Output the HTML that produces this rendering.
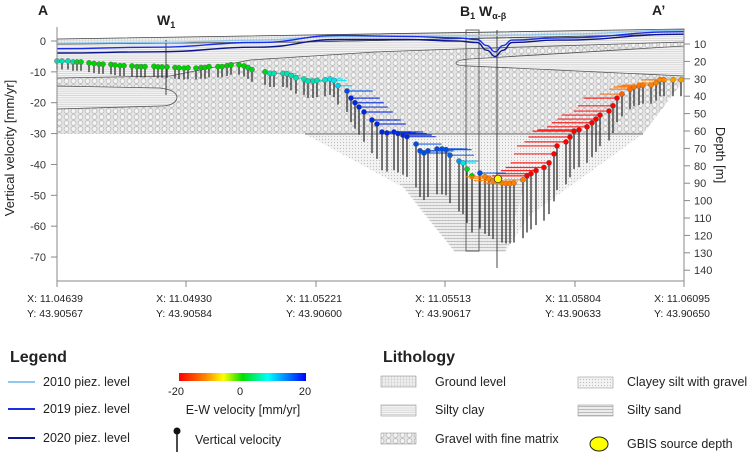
<!DOCTYPE html>
<html><head><meta charset="utf-8"><style>
body{margin:0;background:#fff}
svg{display:block;font-family:"Liberation Sans",sans-serif}
</style></head><body>
<svg id="chart" width="749" height="457" viewBox="0 0 749 457">
<defs>
<pattern id="pGravel" width="7" height="6" patternUnits="userSpaceOnUse"><rect width="7" height="6" fill="#e4e4e4"/><circle cx="3.5" cy="3" r="2.4" fill="#f4f4f4" stroke="#b4b4b4" stroke-width="0.7"/></pattern>
<pattern id="pClay" width="4" height="2.2" patternUnits="userSpaceOnUse"><rect width="4" height="2.2" fill="#f4f4f4"/><line x1="0" y1="1" x2="4" y2="1" stroke="#c8c8c8" stroke-width="0.6"/></pattern>
<pattern id="pSilt" width="3" height="3" patternUnits="userSpaceOnUse"><rect width="3" height="3" fill="#f3f3f3"/><circle cx="1.5" cy="1.5" r="0.6" fill="#bdbdbd"/></pattern>
<pattern id="pSand" width="2" height="3" patternUnits="userSpaceOnUse"><rect width="2" height="3" fill="#ececec"/><line x1="0" y1="1.5" x2="2" y2="1.5" stroke="#999" stroke-width="0.6"/></pattern>
<pattern id="pGround" width="3" height="3" patternUnits="userSpaceOnUse"><rect width="3" height="3" fill="#efefef"/><line x1="1.5" y1="0" x2="1.5" y2="3" stroke="#c8c8c8" stroke-width="0.5"/><line x1="0" y1="1.5" x2="3" y2="1.5" stroke="#d6d6d6" stroke-width="0.5"/></pattern>
<linearGradient id="cbar" x1="0" x2="1"><stop offset="0" stop-color="#ff0000"/><stop offset="0.2" stop-color="#ff8000"/><stop offset="0.35" stop-color="#ffff00"/><stop offset="0.5" stop-color="#00e000"/><stop offset="0.7" stop-color="#00ffff"/><stop offset="1" stop-color="#0000ff"/></linearGradient>
</defs>
<g id="geo">
<polygon fill="url(#pGravel)" points="57,78 170,76 200,70 250,60 375,52 458,49 684,42 684,80 643,134 57,134"/>
<polygon fill="url(#pSilt)" points="305,134 643,134 530,215 505,252 455,252 408,190"/>
<polygon fill="url(#pSand)" opacity="0.8" points="400,183 525,183 505,252 455,252 425,215"/>
<polygon fill="url(#pClay)" stroke="#555" stroke-width="0.8" points="57,44 300,42 684,34 684,42 458,49 375,52 250,60 200,70 170,76 57,78"/>
<polygon fill="url(#pGround)" stroke="#444" stroke-width="0.8" points="57,39 684,29 684,34 300,42 57,44"/>
<path fill="url(#pClay)" stroke="#555" stroke-width="0.8" d="M57,86 L160,88 Q177,90 177,98 Q175,106 160,106 L57,109 Z"/>
<path fill="url(#pClay)" stroke="#555" stroke-width="0.8" d="M684,46 L470,59 Q456,60 456,63 Q456,66 470,66 L684,76 Z"/>
<line x1="305" y1="134" x2="643" y2="134" stroke="#444" stroke-width="0.8"/>
<line x1="166" y1="40" x2="166" y2="95" stroke="#333" stroke-width="0.9"/>
<rect x="466" y="30" width="13" height="221" fill="none" stroke="#555" stroke-width="0.9"/>
<line x1="497" y1="30" x2="497" y2="268" stroke="#333" stroke-width="0.9"/>
</g>
<g id="piez"></g>
<g id="marks"></g>
<g id="axes"></g>
<g font-weight="bold" fill="#222">
<text x="38" y="15" font-size="14">A</text>
<text x="157" y="25" font-size="14">W<tspan font-size="9" dy="3">1</tspan></text>
<text x="460" y="16" font-size="14">B<tspan font-size="9" dy="3">1</tspan><tspan dy="-3"> W</tspan><tspan font-size="9" dy="3">α-β</tspan></text>
<text x="652" y="15" font-size="14">A’</text>
</g>
<g fill="#222">
<text x="10" y="362" font-size="16" font-weight="bold">Legend</text>
<line x1="8" y1="382" x2="35" y2="382" stroke="#8ec8f0" stroke-width="2"/>
<text x="43" y="386" font-size="12.5">2010 piez. level</text>
<line x1="8" y1="409" x2="35" y2="409" stroke="#1a2ee8" stroke-width="2"/>
<text x="43" y="413" font-size="12.5">2019 piez. level</text>
<line x1="8" y1="438" x2="35" y2="438" stroke="#0c168c" stroke-width="2"/>
<text x="43" y="442" font-size="12.5">2020 piez. level</text>
<rect x="179" y="373" width="127" height="8" fill="url(#cbar)"/>
<text x="176" y="395" font-size="11" text-anchor="middle">-20</text>
<text x="240" y="395" font-size="11" text-anchor="middle">0</text>
<text x="305" y="395" font-size="11" text-anchor="middle">20</text>
<text x="243" y="414" font-size="12.5" text-anchor="middle">E-W velocity [mm/yr]</text>
<line x1="177" y1="431" x2="177" y2="452" stroke="#111" stroke-width="1.5"/>
<circle cx="177" cy="431" r="3.5" fill="#111"/>
<text x="195" y="444" font-size="12.5">Vertical velocity</text>
</g>
<g fill="#222">
<text x="383" y="362" font-size="16" font-weight="bold">Lithology</text>
<rect x="381" y="376" width="35" height="11" fill="url(#pGround)" stroke="#999" stroke-width="0.6"/>
<text x="435" y="386" font-size="12.5">Ground level</text>
<rect x="381" y="405" width="35" height="11" fill="url(#pClay)" stroke="#999" stroke-width="0.6"/>
<text x="435" y="414" font-size="12.5">Silty clay</text>
<rect x="381" y="433" width="35" height="11" fill="url(#pGravel)" stroke="#999" stroke-width="0.6"/>
<text x="435" y="443" font-size="12.5">Gravel with fine matrix</text>
<rect x="578" y="377" width="35" height="11" fill="url(#pSilt)" stroke="#999" stroke-width="0.6"/>
<text x="627" y="386" font-size="12.5">Clayey silt with gravel</text>
<rect x="578" y="405" width="35" height="11" fill="url(#pSand)" stroke="#999" stroke-width="0.6"/>
<text x="627" y="414" font-size="12.5">Silty sand</text>
<ellipse cx="599" cy="444" rx="9" ry="7" fill="#ffff00" stroke="#222" stroke-width="1"/>
<text x="627" y="448" font-size="12.5">GBIS source depth</text>
</g>
</svg>
<script>
const dist=[0,10,22,32,40,48,64,74,84,92,108,116,126,134,150,160,168,176,194,202,210,220,236,244,254,262,278,288,296,304,322,330,340,348,364,374,382,390,416,426,434,452,460,468,478,494,502,512,520,536,546,554,562,580,588,596,604,614,630,640,650,660,674,682,692,700,718,726,734,742,760,770,778,786,804,812,820,830,846,856,864,872,890,898,906,914,932,940,948,958,974,984,994,1000,1018,1026,1034,1044,1060,1070,1078,1086,1104,1112,1120,1130,1146,1154,1164,1172,1188,1198,1206,1214,1232,1248];
const vertVel=[-6.5,-6.5,-6.5,-6.8,-6.8,-6.8,-7.1,-7.3,-7.5,-7.5,-7.6,-7.8,-8,-8,-8.1,-8.3,-8.3,-8.3,-8.2,-8.4,-8.4,-8.4,-8.6,-8.7,-8.8,-8.7,-8.8,-8.6,-8.6,-8.3,-8.3,-8.3,-8,-7.7,-7.7,-8.1,-8.6,-9.3,-10,-10.5,-10.5,-10.5,-10.6,-11.2,-12,-12.3,-13,-13,-12.8,-12.6,-12.3,-12.8,-14.5,-16.2,-18.5,-20,-21.4,-23,-25.6,-26.9,-29.5,-29.8,-29.5,-30,-30.5,-31,-33.4,-35.6,-36.3,-35.6,-35,-35,-35.2,-37,-38.9,-39.5,-41.5,-43.7,-42.8,-44,-44.5,-45.2,-46,-46.2,-46.2,-46,-45,-43.7,-43,-42,-41,-39.5,-36.6,-34,-32.7,-31.1,-29.2,-28.8,-27.8,-26.5,-25.3,-24,-22.7,-21,-18.5,-17.2,-15.6,-14.9,-14.6,-14.3,-14.3,-13.6,-12.6,-12.6,-12.6,-12.6];
const ewVel=[6,6,6,5,1,1,0,0,0,0,0,0,0,0,0,0,0,0,0,0,0,0,0,0,0,0,0,0,0,0,0,0,0,0,0,0,1,1,1,6,6,6,6,6,6,6,6,6,6,7,8,8,9,16,18,18,18,18,18,18,18,18,18,18,18,18,16,16,16,16,16,16,16,15,12,8,1,0,16,-12,-12,-12,-12,-12,-12,-12,-12,-22,-22,-22,-24,-24,-25,-25,-26,-26,-26,-26,-25,-25,-24,-24,-22,-22,-21,-14,-13,-13,-13,-13,-12,-12,-12,-12,-10,-10];
const gbisDist=[882];
const gbisVel=[-44.7];
const leftTicks=[0,-10,-20,-30,-40,-50,-60,-70];
const depthTicks=[10,20,30,40,50,60,70,80,90,100,110,120,130,140];
const xTickLabels=[["X: 11.04639","Y: 43.90567"],["X: 11.04930","Y: 43.90584"],["X: 11.05221","Y: 43.90600"],["X: 11.05513","Y: 43.90617"],["X: 11.05804","Y: 43.90633"],["X: 11.06095","Y: 43.90650"]];
const xTickDist=[0,258,518,776,1036,1254];
const piezDist=[0,200,400,566,700,800,840,860,876,892,910,1000,1254];
const piez2010=[-0.7,-0.5,0.3,1.5,1.6,1.7,1.7,1.8,1.8,1.8,1.9,2.2,3.5];
const piez2019=[-2.5,-2,-0.5,1.8,1.5,1,0.5,-1.5,-3.5,-1.5,0.3,1,3];
const piez2020=[-3.9,-3.5,-2,0.5,0.5,0,-0.5,-3,-5,-3,-0.5,0.3,2.2];
const NS='http://www.w3.org/2000/svg';
const xOf=d=>57+d*0.5;
const yOf=v=>41-v*3.086;
const depthY=d=>26.6+d*1.74;
const STEM=1.42, EWPX=1.6;
function mk(tag,attrs,parent){const e=document.createElementNS(NS,tag);for(const k in attrs)e.setAttribute(k,attrs[k]);parent.appendChild(e);return e;}
const stops=[[-20,[255,0,0]],[-12,[255,128,0]],[-6,[240,230,0]],[0,[0,210,0]],[8,[0,230,240]],[20,[0,0,220]]];
function col(v){v=Math.max(-20,Math.min(20,v));for(let i=0;i<stops.length-1;i++){const a=stops[i],b=stops[i+1];if(v<=b[0]){const t=(v-a[0])/(b[0]-a[0]);const c=a[1].map((x,j)=>Math.round(x+(b[1][j]-x)*t));return `rgb(${c})`;}}return 'rgb(0,0,220)';}
function smooth(pts){let d='M'+pts[0][0]+','+pts[0][1];for(let i=1;i<pts.length;i++){const p0=pts[i-1],p1=pts[i];const mx=(p0[0]+p1[0])/2;d+=' C'+mx+','+p0[1]+' '+mx+','+p1[1]+' '+p1[0]+','+p1[1];}return d;}
const piezG=document.getElementById('piez');
[[piez2010,'#8ec8f0','piez-2010-line'],[piez2019,'#1a2ee8','piez-2019-line'],[piez2020,'#0c168c','piez-2020-line']].forEach(([arr,c,n])=>{
 const pts=arr.map((v,i)=>[+xOf(piezDist[i]).toFixed(1),+yOf(v).toFixed(1)]);
 const p=mk('path',{d:smooth(pts),fill:'none',stroke:c,'stroke-width':1.4},piezG);
 
 
});
const g=document.getElementById('marks');
dist.forEach((d,i)=>{
 const x=xOf(d),v=vertVel[i],y=yOf(v),e=ewVel[i],c=col(e);
 if(Math.abs(e)>=2){const l=mk('line',{x1:x,y1:y,x2:x+e*EWPX,y2:y,stroke:c,'stroke-width':1.2,opacity:0.85},g);
  
  }
 const s=mk('line',{x1:x,y1:y,x2:x,y2:yOf(v*STEM),stroke:'#333','stroke-width':1.3},g);
 
 
 const dot=mk('circle',{cx:x,cy:y,r:2.6,fill:c,stroke:'#555','stroke-width':0.4},g);
 
 
});
gbisDist.forEach((d,i)=>{const c=mk('circle',{cx:xOf(d),cy:yOf(gbisVel[i]),r:3.8,fill:'#ffff00',stroke:'#333','stroke-width':0.8},g);
 
 });
const ax=document.getElementById('axes');
mk('line',{x1:57,y1:27,x2:57,y2:281,stroke:'#888','stroke-width':1},ax);
mk('line',{x1:684,y1:30,x2:684,y2:281,stroke:'#888','stroke-width':1},ax);
mk('line',{x1:57,y1:281,x2:684,y2:281,stroke:'#888','stroke-width':1},ax);
leftTicks.forEach(t=>{const y=yOf(t);mk('line',{x1:51,y1:y,x2:57,y2:y,stroke:'#888'},ax);
 const tx=mk('text',{x:46,y:y+4,'font-size':11,'text-anchor':'end',fill:'#333'},ax);tx.textContent=t;
 
 });
depthTicks.forEach(t=>{const y=depthY(t);mk('line',{x1:684,y1:y,x2:690,y2:y,stroke:'#888'},ax);
 const tx=mk('text',{x:694,y:y+4,'font-size':11,fill:'#333'},ax);tx.textContent=t;
 
 });
xTickDist.forEach((d,i)=>{const x=xOf(d);mk('line',{x1:x,y1:281,x2:x,y2:287,stroke:'#888'},ax);
 xTickLabels[i].forEach((s,j)=>{const tx=mk('text',{x:Math.min(x-2,688),y:302+j*15,'font-size':10.5,'text-anchor':'middle',fill:'#222'},ax);tx.textContent=s;
 
 });});
const yt=mk('text',{x:0,y:0,'font-size':13,'text-anchor':'middle',fill:'#222',transform:'translate(14,148) rotate(-90)'},ax);yt.textContent='Vertical velocity [mm/yr]';


const dt=mk('text',{x:0,y:0,'font-size':13,'text-anchor':'middle',fill:'#222',transform:'translate(716,155) rotate(90)'},ax);dt.textContent='Depth [m]';


</script>
</body></html>
